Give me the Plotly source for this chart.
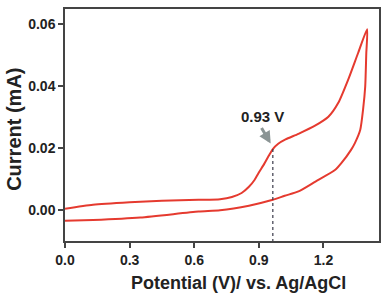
import plotly.graph_objects as go

# Forward scan (anodic)
fwd_v = [0.0, 0.13, 0.3, 0.45, 0.62, 0.72, 0.775, 0.82, 0.854, 0.88, 0.90, 0.925, 0.946,
         0.965, 0.99, 1.024, 1.084, 1.163, 1.223, 1.269, 1.315, 1.361, 1.403]
fwd_i = [0.0003, 0.0016, 0.0024, 0.0029, 0.0032, 0.0034, 0.0041, 0.0054, 0.0074, 0.0096,
         0.0120, 0.0148, 0.0174, 0.0196, 0.0213, 0.0227, 0.0245, 0.0272, 0.0300, 0.0345,
         0.0420, 0.0506, 0.0583]
# Reverse scan
rev_v = [1.403, 1.399, 1.394, 1.384, 1.371, 1.346, 1.329, 1.284, 1.255, 1.163, 1.084, 1.02,
         0.965, 0.854, 0.72, 0.62, 0.35, 0.13, 0.0]
rev_i = [0.0583, 0.0505, 0.0398, 0.0323, 0.0258, 0.0215, 0.0194, 0.0151, 0.0129, 0.0091,
         0.0059, 0.0045, 0.0032, 0.0013, -0.0002, -0.0006, -0.0025, -0.0033, -0.0036]

x_ticks = [0.0, 0.3, 0.6, 0.9, 1.2]
y_ticks = [0.00, 0.02, 0.04, 0.06]
marker_v = 0.965
marker_i = 0.0196
label_text = "0.93 V"

fig = go.Figure()
fig.add_trace(go.Scatter(
    x=fwd_v + rev_v[1:], y=fwd_i + rev_i[1:], mode="lines",
    line=dict(color="#e53a2f", width=2, shape="spline", smoothing=0.6),
    showlegend=False, hoverinfo="skip"))
fig.add_trace(go.Scatter(
    x=[marker_v, marker_v], y=[marker_i, -0.0102], mode="lines",
    line=dict(color="#3a3a4a", width=1.2, dash="dot"),
    showlegend=False, hoverinfo="skip"))

fig.add_annotation(x=marker_v - 0.01, y=marker_i + 0.0018, ax=-10, ay=-17,
                   axref="pixel", ayref="pixel", xref="x", yref="y",
                   showarrow=True, arrowhead=2, arrowsize=0.8, arrowwidth=3,
                   arrowcolor="#8a9494", text="")
fig.add_annotation(x=0.915, y=0.0300, xref="x", yref="y", text=label_text,
                   showarrow=False, font=dict(family="Liberation Sans", size=15,
                                              color="#222222", weight="bold"))
# Axis titles (placed as annotations to match reference positions)
fig.add_annotation(x=(240 - 65) / 316, y=(241 - 283) / 232, xref="paper", yref="paper",
                   yanchor="middle", xanchor="center", showarrow=False,
                   text="Potential (V)/ vs. Ag/AgCl",
                   font=dict(family="Liberation Sans Narrow, Arial Narrow, Liberation Sans",
                             size=18, weight="bold", color="#222"))
fig.add_annotation(x=(13 - 65) / 316, y=(241 - 129.5) / 232, xref="paper", yref="paper",
                   yanchor="middle", xanchor="center", showarrow=False, textangle=-90,
                   text="Current (mA)",
                   font=dict(family="Liberation Sans", size=20, weight="bold", color="#222"))

fig.update_layout(
    width=385, height=296,
    margin=dict(l=65, r=4, t=9, b=55),
    paper_bgcolor="white", plot_bgcolor="white",
    font=dict(family="Liberation Sans", color="#222222"),
    xaxis=dict(range=[0, 1.458], tickvals=x_ticks, ticktext=["%.1f" % v for v in x_ticks],
               ticks="outside", ticklen=5, tickwidth=1.5, tickcolor="#444",
               showline=True, linecolor="#444", linewidth=1.5, mirror=True,
               showgrid=False, zeroline=False,
               tickfont=dict(size=14, weight="bold", color="#222")),
    yaxis=dict(range=[-0.0101, 0.0648], tickvals=y_ticks, ticktext=["%.2f" % v for v in y_ticks],
               ticks="outside", ticklen=5, tickwidth=1.5, tickcolor="#444",
               showline=True, linecolor="#444", linewidth=1.5, mirror=True,
               showgrid=False, zeroline=False,
               tickfont=dict(size=14, weight="bold", color="#222")),
)

fig.write_html("out.html")
